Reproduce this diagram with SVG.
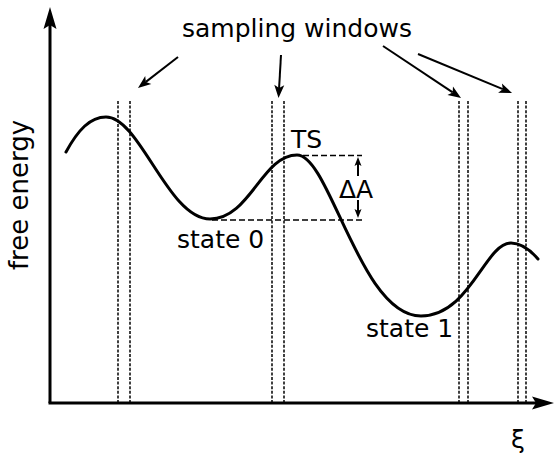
<svg xmlns="http://www.w3.org/2000/svg" width="554" height="454" viewBox="0 0 554 454">
<style>
text{font-family:"DejaVu Sans","Liberation Sans",sans-serif;font-size:25px;fill:#000}
.axis{stroke:#000;stroke-width:3;fill:none}
.curve{stroke:#000;stroke-width:3;fill:none;stroke-linecap:round}
.win{stroke:#000;stroke-width:1.5;stroke-dasharray:3,1.6;fill:none}
.guide{stroke:#000;stroke-width:1.5;stroke-dasharray:6,3;fill:none}
.ann{stroke:#000;stroke-width:2;fill:none}
</style>
<defs>
<marker id="axhead" markerUnits="userSpaceOnUse" orient="auto" refX="0" refY="0" markerWidth="30" markerHeight="20" overflow="visible">
<path d="M18,0 L-4,-6.5 L0,0 L-4,6.5 Z" fill="#000"/>
</marker>
<marker id="annhead" markerUnits="userSpaceOnUse" orient="auto" refX="0" refY="0" markerWidth="20" markerHeight="20" overflow="visible">
<path d="M10,0 L-3,-5 L0,0 L-3,5 Z" fill="#000"/>
</marker>
<marker id="dahead" markerUnits="userSpaceOnUse" orient="auto" refX="0" refY="0" markerWidth="20" markerHeight="20" overflow="visible">
<path d="M7,0 L-2,-3.5 L0,0 L-2,3.5 Z" fill="#000"/>
</marker>
</defs>
<g id="axes">
<line class="axis" x1="50" y1="403" x2="50" y2="25" marker-end="url(#axhead)"/>
<line class="axis" x1="48.5" y1="403" x2="536" y2="403" marker-end="url(#axhead)"/>
</g>
<g id="windows">
<line class="win" x1="118" y1="101" x2="118" y2="402"/>
<line class="win" x1="130" y1="101" x2="130" y2="402"/>
<line class="win" x1="272" y1="101" x2="272" y2="402"/>
<line class="win" x1="284" y1="101" x2="284" y2="402"/>
<line class="win" x1="459" y1="101" x2="459" y2="402"/>
<line class="win" x1="468" y1="101" x2="468" y2="402"/>
<line class="win" x1="518" y1="101" x2="518" y2="402"/>
<line class="win" x1="526" y1="101" x2="526" y2="402"/>
</g>
<g id="curve">
<path class="curve" d="M66,152 C78,130 90,117 106,117 C140,117 168,219 210,219 C250,219 262,155 297,155 C330,155 360,316 421,316 C470,316 485,243 511,243 C522,243 532,252 538,259"/>
</g>
<g id="connectors">
<line class="guide" x1="303" y1="155.5" x2="362" y2="155.5"/>
<line class="guide" x1="212" y1="220" x2="362" y2="220"/>
<line class="ann" x1="358" y1="176" x2="358" y2="164" marker-end="url(#dahead)"/>
<line class="ann" x1="358" y1="200" x2="358" y2="211" marker-end="url(#dahead)"/>
<line class="ann" x1="178" y1="57" x2="145.9" y2="81.9" marker-end="url(#annhead)"/>
<line class="ann" x1="281" y1="55" x2="279.1" y2="88" marker-end="url(#annhead)"/>
<line class="ann" x1="383" y1="46" x2="452.7" y2="92.4" marker-end="url(#annhead)"/>
<line class="ann" x1="418" y1="54" x2="502.8" y2="89.2" marker-end="url(#annhead)"/>
</g>
<g id="labels">
<text id="sampling" x="182" y="37">sampling windows</text>
<text id="ts" x="291" y="148">TS</text>
<text id="dA" x="339" y="198">ΔA</text>
<text id="state0" x="177" y="248">state 0</text>
<text id="state1" x="366" y="337">state 1</text>
<text id="ylabel" transform="translate(28,195) rotate(-90)" text-anchor="middle" style="font-size:26px">free energy</text>
<text id="xlabel" x="518" y="448" text-anchor="middle">ξ</text>
</g>
</svg>
